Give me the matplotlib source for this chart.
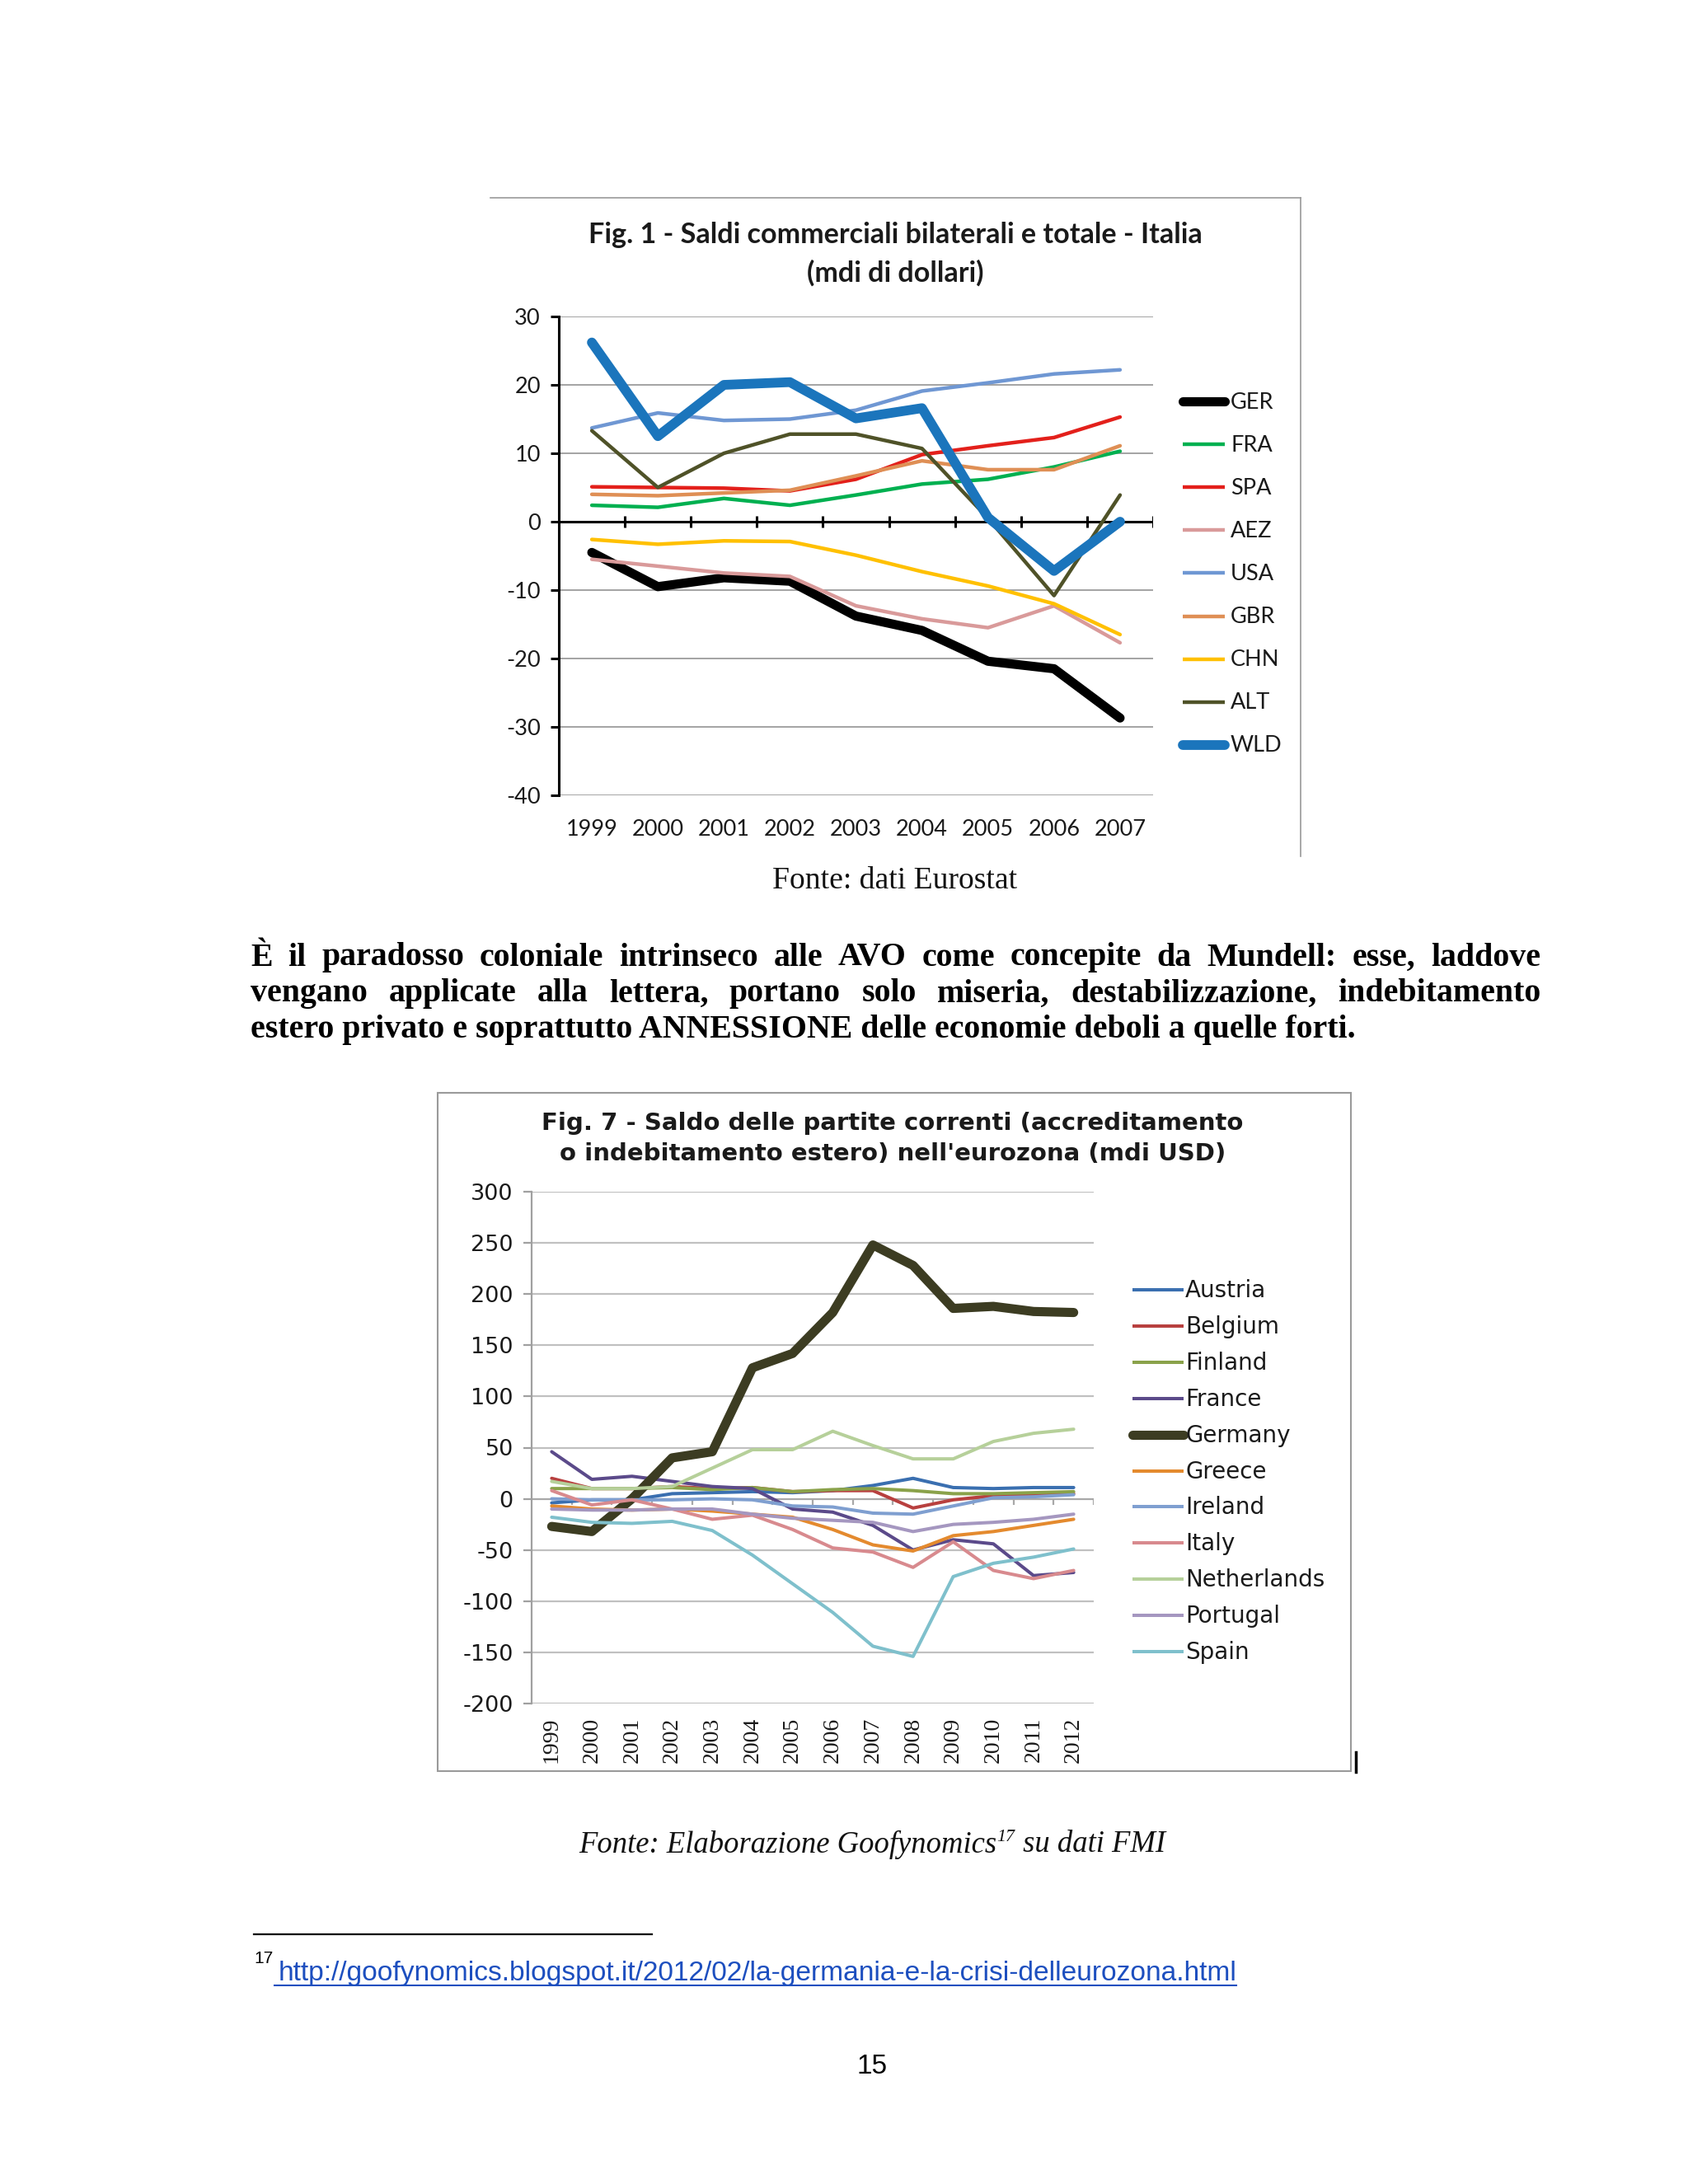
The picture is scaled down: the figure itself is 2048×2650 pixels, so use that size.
import matplotlib
matplotlib.use('Agg')
import matplotlib.pyplot as plt
from matplotlib.lines import Line2D
from matplotlib.patches import Rectangle

# ---------------- data: Fig. 1 ----------------
years1 = ['1999', '2000', '2001', '2002', '2003', '2004', '2005', '2006', '2007']
ger = [-4.5, -9.5, -8.2, -8.7, -13.8, -15.9, -20.4, -21.5, -28.7]
fra = [2.4, 2.1, 3.4, 2.4, 3.9, 5.5, 6.2, 8.0, 10.3]
spa = [5.1, 5.0, 4.9, 4.5, 6.2, 9.8, 11.1, 12.3, 15.3]
aez = [-5.5, -6.5, -7.5, -8.0, -12.3, -14.2, -15.5, -12.3, -17.7]
usa = [13.7, 15.9, 14.8, 15.0, 16.3, 19.1, 20.3, 21.6, 22.2]
gbr = [4.0, 3.8, 4.2, 4.6, 6.7, 8.9, 7.6, 7.6, 11.1]
chn = [-2.6, -3.3, -2.8, -2.9, -4.9, -7.3, -9.4, -12.0, -16.5]
alt = [13.3, 5.0, 10.0, 12.8, 12.8, 10.7, 0.5, -10.8, 3.9]
wld = [26.2, 12.5, 20.0, 20.4, 15.1, 16.6, 0.6, -7.2, 0.0]
names1 = ['GER', 'FRA', 'SPA', 'AEZ', 'USA', 'GBR', 'CHN', 'ALT', 'WLD']
yticks1 = [-40, -30, -20, -10, 0, 10, 20, 30]

# ---------------- data: Fig. 7 ----------------
years7 = ['1999', '2000', '2001', '2002', '2003', '2004', '2005', '2006',
          '2007', '2008', '2009', '2010', '2011', '2012']
austria = [-4, -1, -1, 5, 6, 7, 6, 8, 13, 20, 11, 10, 11, 11]
belgium = [20, 10, 10, 12, 10, 11, 7, 8, 8, -9, -1, 3, 4, 5]
finland = [10, 10, 10, 11, 9, 11, 7, 9, 10, 8, 5, 5, 6, 7]
france = [46, 19, 22, 17, 12, 10, -10, -13, -26, -50, -40, -44, -75, -72]
germany = [-27, -32, 0, 40, 46, 128, 142, 182, 248, 228, 186, 188, 183, 182]
greece = [-7, -10, -11, -10, -12, -15, -18, -30, -45, -51, -36, -32, -26, -20]
ireland = [0, -1, -1, -1, 0, -1, -7, -8, -14, -15, -7, 1, 2, 4]
italy = [8, -6, -1, -10, -20, -16, -30, -48, -52, -67, -42, -70, -78, -70]
netherlands = [17, 10, 10, 12, 30, 48, 48, 66, 52, 39, 39, 56, 64, 68]
portugal = [-10, -11, -11, -10, -10, -15, -19, -21, -23, -32, -25, -23, -20, -15]
spain = [-18, -23, -24, -22, -31, -55, -83, -111, -144, -154, -76, -63, -57, -49]
names7 = ['Austria', 'Belgium', 'Finland', 'France', 'Germany', 'Greece',
          'Ireland', 'Italy', 'Netherlands', 'Portugal', 'Spain']
yticks7 = [-200, -150, -100, -50, 0, 50, 100, 150, 200, 250, 300]

# ---------------- styles ----------------
colors1 = ['#000000', '#00b050', '#e3201b', '#d99a9a', '#6f97d3',
           '#df8f55', '#ffc000', '#4f5228', '#1b75bc']
widths1 = [8.0, 3.2, 3.2, 3.2, 3.2, 3.2, 3.2, 3.2, 8.5]
colors7 = ['#3a6fb0', '#b8403f', '#8aa24a', '#5b4a8a', '#3c3c22', '#e48a2e',
           '#7f9fd0', '#d88a8e', '#b6d09a', '#a597c0', '#7fc0cc']
widths7 = [2.9, 2.9, 2.9, 2.9, 8.0, 2.9, 2.9, 2.9, 2.9, 2.9, 2.9]

W, H = 2048, 2650
fig = plt.figure(figsize=(W / 100, H / 100), dpi=100)
fig.patch.set_facecolor('white')
R = fig.canvas.get_renderer()


def fx(x):
    return x / W


def fy(y):
    return 1 - y / H


def ax_px(l, t, r, b):
    return fig.add_axes([l / W, 1 - b / H, (r - l) / W, (b - t) / H])


def width_of(t):
    return t.get_window_extent(renderer=R).width


def fit_size(s, target, base=20, **kw):
    t = fig.text(0, 0, s, fontsize=base, **kw)
    w = width_of(t)
    t.remove()
    return base * target / w


# ======================= FIG 1 =======================
fig.add_artist(Line2D([fx(595), fx(1578)], [fy(240), fy(240)], color='#9a9a9a', lw=1.2))
fig.add_artist(Line2D([fx(1578), fx(1578)], [fy(240), fy(1039)], color='#9a9a9a', lw=1.2))

TF1 = 'Lato'
t1a = 'Fig. 1 - Saldi commerciali bilaterali e totale - Italia'
tsz1 = fit_size(t1a, 745, family=TF1, fontweight='bold')
fig.text(fx(1086), fy(285), t1a, ha='center', va='center',
         fontsize=tsz1, fontweight='bold', family=TF1, color='#1a1a1a')
fig.text(fx(1086), fy(331), '(mdi di dollari)', ha='center', va='center',
         fontsize=tsz1, fontweight='bold', family=TF1, color='#1a1a1a')

ax1 = ax_px(678, 384, 1399, 965)
ax1.set_xlim(-0.5, len(years1) - 0.5)
ax1.set_ylim(min(yticks1), max(yticks1))
for yv in yticks1:
    if yv != 0:
        ax1.axhline(yv, color='#8a8a8a', lw=1.1, zorder=0)
series1 = [ger, fra, spa, aez, usa, gbr, chn, alt, wld]
xs1 = list(range(len(years1)))
for vals, c, lw in zip(series1, colors1, widths1):
    ax1.plot(xs1, vals, color=c, lw=lw, solid_joinstyle='round',
             solid_capstyle='round', zorder=3)
ax1.axhline(0, color='black', lw=2.2, zorder=2)
bounds1 = [i + 0.5 for i in xs1]
ax1.vlines(bounds1, -0.9, 0.9, color='black', lw=2.2, zorder=2)
for sp in ['top', 'right', 'bottom']:
    ax1.spines[sp].set_visible(False)
ax1.spines['left'].set_color('black')
ax1.spines['left'].set_linewidth(2.2)
ax1.set_yticks(yticks1)
ax1.set_yticklabels([str(v) for v in yticks1], family=TF1, fontsize=19.5, color='#1a1a1a')
ax1.tick_params(axis='y', direction='out', length=7, width=2.2, pad=9)
ax1.set_xticks(xs1)
ax1.set_xticklabels(years1, family=TF1, fontsize=19.5, color='#1a1a1a')
ax1.tick_params(axis='x', length=0, pad=21)
ax1.set_facecolor('none')

# legend fig 1
for i, (nm, c, lw) in enumerate(zip(names1, colors1, widths1)):
    yy = 487 + i * 52.1
    fig.add_artist(Line2D([fx(1435), fx(1486)], [fy(yy), fy(yy)], color=c, lw=lw,
                          solid_capstyle='round' if lw > 5 else 'butt'))
    fig.text(fx(1493), fy(yy + 1), nm, ha='left', va='center', fontsize=19.5,
             family=TF1, color='#1a1a1a')

# ======================= TEXT =======================
SERIF = 'Liberation Serif'
s_fonte1 = 'Fonte: dati Eurostat'
fig.text(fx(1086), fy(1069), s_fonte1, ha='center', va='center',
         fontsize=fit_size(s_fonte1, 296, family=SERIF), family=SERIF, color='#111111')

par1 = 'È il paradosso coloniale intrinseco alle AVO come concepite da Mundell: esse, laddove'
par2 = 'vengano applicate alla lettera, portano solo miseria, destabilizzazione, indebitamento'
par3 = 'estero privato e soprattutto ANNESSIONE delle economie deboli a quelle forti.'
psize = fit_size(par3, 1340, family=SERIF, fontweight='bold')
pkw = dict(family=SERIF, fontweight='bold', fontsize=psize, va='center', ha='left', color='black')


def justify(line, y, x0, x1):
    words = line.split(' ')
    ts = [fig.text(0, fy(y), w, **pkw) for w in words]
    ws = [width_of(t) for t in ts]
    gap = (x1 - x0 - sum(ws)) / (len(words) - 1)
    x = x0
    for t, w in zip(ts, ws):
        t.set_x(fx(x))
        x += w + gap


justify(par1, 1162, 304, 1869)
justify(par2, 1206, 304, 1869)
fig.text(fx(304), fy(1250), par3, **pkw)

# ======================= FIG 7 =======================
fig.add_artist(Rectangle((fx(531), fy(2149)), fx(1639) - fx(531), fy(1326) - fy(2149),
                         fill=False, edgecolor='#9a9a9a', lw=1.5))
fig.add_artist(Line2D([fx(1645), fx(1645)], [fy(2126), fy(2150)], color='black', lw=2.5))

TF7 = 'DejaVu Sans'
t7a = 'Fig. 7 - Saldo delle partite correnti (accreditamento'
tsz7 = fit_size(t7a, 852, family=TF7, fontweight='bold')
fig.text(fx(1083), fy(1363), t7a,
         ha='center', va='center', fontsize=tsz7, fontweight='bold', family=TF7, color='#1a1a1a')
fig.text(fx(1083), fy(1400), "o indebitamento estero) nell'eurozona (mdi USD)",
         ha='center', va='center', fontsize=tsz7, fontweight='bold', family=TF7, color='#1a1a1a')

ax7 = ax_px(645, 1446, 1327, 2067)
ax7.set_xlim(-0.5, len(years7) - 0.5)
ax7.set_ylim(min(yticks7), max(yticks7))
for yv in yticks7:
    if yv != 0:
        ax7.axhline(yv, color='#c0c0c0', lw=1.6, zorder=0)
series7 = [austria, belgium, finland, france, germany, greece, ireland, italy,
           netherlands, portugal, spain]
xs7 = list(range(len(years7)))
for vals, c, lw in zip(series7, colors7, widths7):
    ax7.plot(xs7, vals, color=c, lw=lw, solid_joinstyle='round',
             solid_capstyle='round', zorder=3)
ax7.axhline(0, color='#a8a8a8', lw=1.6, zorder=1)
bounds7 = [i + 0.5 for i in xs7]
ax7.vlines(bounds7, -6, 0, color='#a8a8a8', lw=1.6, zorder=1)
for sp in ['top', 'right', 'bottom']:
    ax7.spines[sp].set_visible(False)
ax7.spines['left'].set_color('#a0a0a0')
ax7.spines['left'].set_linewidth(1.6)
ax7.set_yticks(yticks7)
ax7.set_yticklabels([str(v) for v in yticks7], family=TF7, fontsize=19.5, color='#1a1a1a')
ax7.tick_params(axis='y', direction='out', length=7, width=1.6, color='#a0a0a0', pad=9)
ax7.set_xticks(xs7)
ax7.set_xticklabels(years7, family=SERIF, fontsize=20, rotation=90, color='#1a1a1a')
ax7.tick_params(axis='x', length=0, pad=12)
ax7.set_facecolor('none')

for i, (nm, c, lw) in enumerate(zip(names7, colors7, widths7)):
    yy = 1565 + i * 43.9
    fig.add_artist(Line2D([fx(1374), fx(1436)], [fy(yy), fy(yy)], color=c, lw=lw,
                          solid_capstyle='round' if lw > 5 else 'butt'))
    fig.text(fx(1438), fy(yy + 1), nm, ha='left', va='center', fontsize=20,
             family=TF7, color='#1a1a1a')

# ======================= BOTTOM TEXT =======================
s_a = 'Fonte: Elaborazione Goofynomics'
s_b = '17'
s_c = ' su dati FMI'
isz = fit_size(s_a + s_c, 690, family=SERIF, style='italic')
ikw = dict(family=SERIF, style='italic', va='center', ha='left', color='#111111')
ta = fig.text(0, fy(2238), s_a, fontsize=isz, **ikw)
tb = fig.text(0, fy(2230), s_b, fontsize=isz * 0.6, **ikw)
tc = fig.text(0, fy(2238), s_c, fontsize=isz, **ikw)
wa, wb, wc = width_of(ta), width_of(tb), width_of(tc)
x0 = 1058 - (wa + wb + wc) / 2
ta.set_x(fx(x0))
tb.set_x(fx(x0 + wa))
tc.set_x(fx(x0 + wa + wb))

fig.add_artist(Line2D([fx(308), fx(791)], [fy(2347), fy(2347)], color='black', lw=1.6))
SANS = 'Liberation Sans'
fig.text(fx(308), fy(2376), '17', ha='left', va='center', fontsize=15, family=SANS, color='black')
url = 'http://goofynomics.blogspot.it/2012/02/la-germania-e-la-crisi-delleurozona.html'
usz = fit_size(url, 1162, family=SANS)
fig.text(fx(338), fy(2394), url, ha='left', va='center', fontsize=usz, family=SANS, color='#1d4fbf')
fig.add_artist(Line2D([fx(333), fx(1500)], [fy(2409), fy(2409)], color='#1d4fbf', lw=1.5))

fig.text(fx(1058), fy(2507), '15', ha='center', va='center', fontsize=24, family=SANS, color='black')

fig.savefig('out.png', dpi=100, facecolor='white')
